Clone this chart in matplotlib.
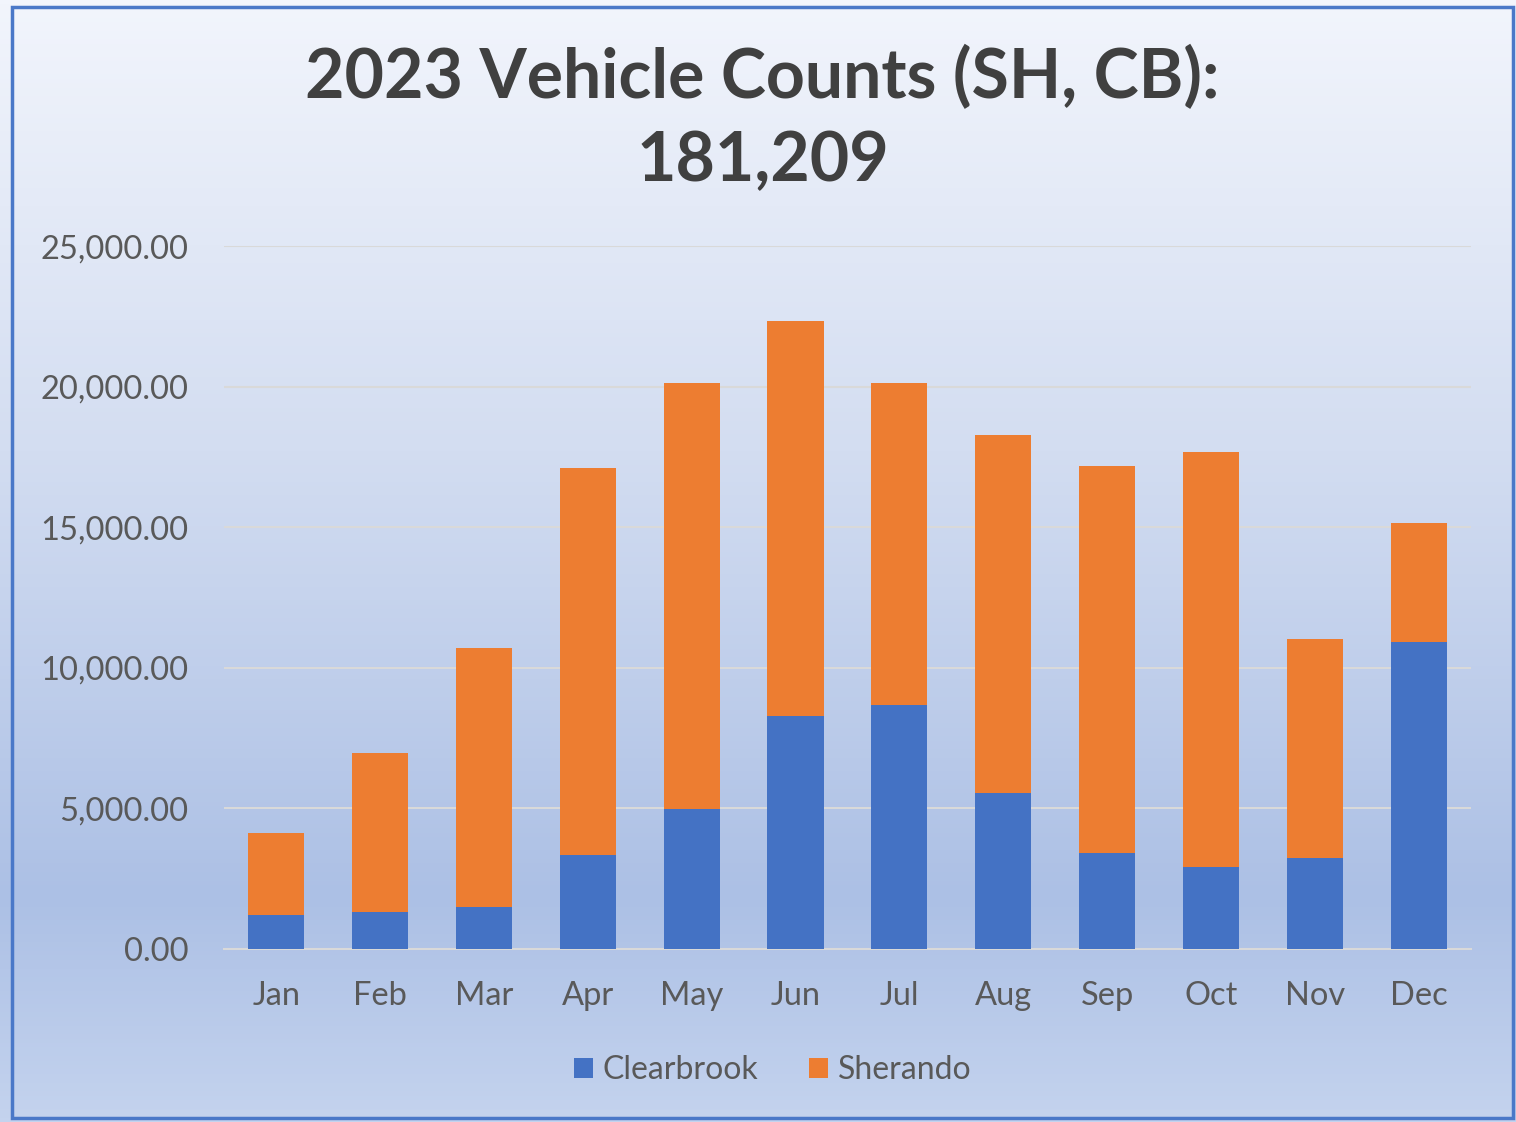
import numpy as np
import matplotlib.pyplot as plt
from matplotlib.colors import LinearSegmentedColormap
from matplotlib.patches import Rectangle

months = ['Jan', 'Feb', 'Mar', 'Apr', 'May', 'Jun', 'Jul', 'Aug', 'Sep', 'Oct', 'Nov', 'Dec']
clearbrook = [1210, 1320, 1490, 3340, 4980, 8290, 8680, 5550, 3410, 2920, 3240, 10920]
totals = [4130, 6970, 10700, 17100, 20130, 22330, 20130, 18280, 17180, 17670, 11020, 15150]
sherando = [t - c for t, c in zip(totals, clearbrook)]

plt.rcParams['font.family'] = ['Lato', 'DejaVu Sans']

fig = plt.figure(figsize=(15.16, 11.22), dpi=100)

# background gradient (light at top, bluer near the bottom)
bg = fig.add_axes([0, 0, 1, 1], zorder=-1)
cmap = LinearSegmentedColormap.from_list('bg', [
    (0.0, '#F2F5FC'), (0.4, '#D3DDF1'), (0.8, '#ACC0E5'), (1.0, '#C4D3EE')])
grad = np.linspace(0, 1, 256).reshape(-1, 1)
bg.imshow(grad, aspect='auto', cmap=cmap, extent=[0, 1, 1, 0])
bg.set_xlim(0, 1)
bg.set_ylim(1, 0)
bg.axis('off')
fig.patches.append(Rectangle((0.008, 0.004), 0.990, 0.990, transform=fig.transFigure,
                             fill=False, edgecolor='#4A78C8', linewidth=2.5))

ax = fig.add_axes([0.148, 0.1542, 0.822, 0.6265])
ax.set_facecolor('none')
x = np.arange(len(months))
ax.bar(x, clearbrook, width=0.54, color='#4472C4', label='Clearbrook', zorder=3)
ax.bar(x, sherando, width=0.54, bottom=clearbrook, color='#ED7D31', label='Sherando', zorder=3)

ax.set_xlim(-0.5, 11.5)
ax.set_ylim(0, 25000)
ax.set_yticks(np.arange(0, 25001, 5000))
ax.set_yticklabels([f'{v:,.2f}' for v in np.arange(0, 25001, 5000)])
ax.set_xticks(x)
ax.set_xticklabels(months)
ax.grid(axis='y', color='#D9D9D9', linewidth=1.5, zorder=0)
ax.set_axisbelow(True)
for s in ['top', 'right', 'left']:
    ax.spines[s].set_visible(False)
ax.spines['bottom'].set_color('#D9D9D9')
ax.spines['bottom'].set_linewidth(1.5)
ax.tick_params(axis='both', length=0, labelsize=23.5, labelcolor='#595959')
ax.tick_params(axis='y', pad=26)
ax.tick_params(axis='x', pad=23)

fig.text(0.503, 0.894, '2023 Vehicle Counts (SH, CB):\n181,209', ha='center', va='center',
         fontsize=49, fontweight='bold', color='#404040', linespacing=1.4)

leg = ax.legend(loc='upper center', bbox_to_anchor=(0.44, -0.11), ncol=2, frameon=False,
                fontsize=23, handlelength=0.6, handleheight=0.6, handletextpad=0.3,
                columnspacing=1.6, labelcolor='#595959')

fig.savefig('out.png', dpi=100)
